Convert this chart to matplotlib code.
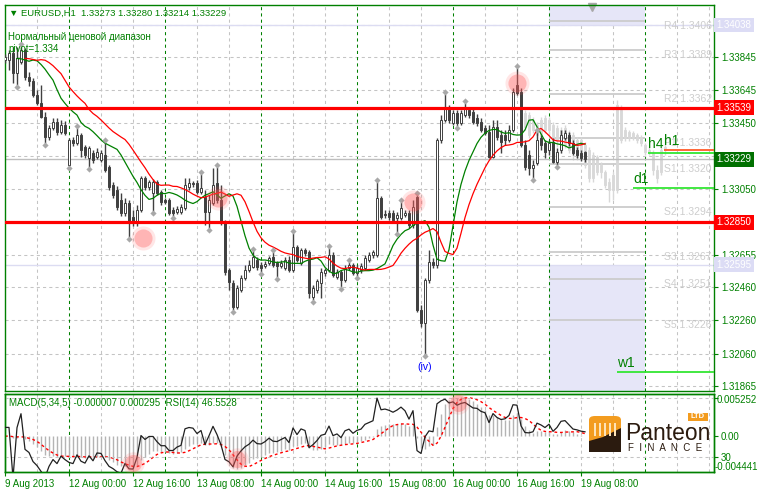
import numpy as np
import pandas as pd
import matplotlib
matplotlib.use("Agg")
import matplotlib.pyplot as plt
from matplotlib.patches import FancyBboxPatch, Polygon, Rectangle

plt.rcParams['font.family'] = ['Liberation Sans', 'DejaVu Sans']

# EURUSD H1 bars, 9 Aug 2013 08:00 .. 19 Aug 2013 09:00
opens = [1.33827, 1.33827, 1.33869, 1.33749, 1.33815, 1.33887, 1.33724, 1.33700, 1.33616, 1.33568,
         1.33484, 1.33363, 1.33417, 1.33454, 1.33393, 1.33435, 1.33195, 1.33345, 1.33327, 1.33375,
         1.33303, 1.33237, 1.33267, 1.33243, 1.33225, 1.33255, 1.33183, 1.33074, 1.33044, 1.32984,
         1.32906, 1.32966, 1.32882, 1.32846, 1.32924, 1.33116, 1.33062, 1.33026, 1.33092, 1.33032,
         1.32984, 1.32984, 1.32924, 1.32912, 1.32912, 1.32936, 1.33062, 1.33086, 1.33086, 1.33032,
         1.33002, 1.32912, 1.32966, 1.33086, 1.32984, 1.32846, 1.32563, 1.32484, 1.32340, 1.32442,
         1.32514, 1.32563, 1.32581, 1.32623, 1.32593, 1.32587, 1.32605, 1.32641, 1.32605, 1.32587,
         1.32575, 1.32623, 1.32563, 1.32701, 1.32605, 1.32683, 1.32671, 1.32400, 1.32442, 1.32484,
         1.32545, 1.32563, 1.32653, 1.32520, 1.32551, 1.32502, 1.32575, 1.32593, 1.32545, 1.32563,
         1.32575, 1.32623, 1.32653, 1.32653, 1.32996, 1.32900, 1.32906, 1.32906, 1.32876, 1.32876,
         1.32894, 1.32906, 1.32833, 1.33002, 1.32322, 1.32244, 1.32502, 1.32611, 1.32593, 1.33345,
         1.33466, 1.33538, 1.33448, 1.33508, 1.33448, 1.33496, 1.33526, 1.33514, 1.33478, 1.33454,
         1.33417, 1.33393, 1.33243, 1.33423, 1.33375, 1.33375, 1.33345, 1.33405, 1.33676, 1.33634,
         1.33315, 1.33255, 1.33177, 1.33207, 1.33357, 1.33327, 1.33285, 1.33333, 1.33213, 1.33285,
         1.33357, 1.33375, 1.33327, 1.33285, 1.33267, 1.33273]
highs = [1.33863, 1.33887, 1.33905, 1.33905, 1.33911, 1.33899, 1.33755, 1.33718, 1.33646, 1.33676,
         1.33514, 1.33435, 1.33478, 1.33478, 1.33466, 1.33460, 1.33357, 1.33363, 1.33417, 1.33387,
         1.33315, 1.33309, 1.33285, 1.33297, 1.33285, 1.33333, 1.33195, 1.33092, 1.33068, 1.33026,
         1.32996, 1.32984, 1.32924, 1.32954, 1.33128, 1.33128, 1.33104, 1.33110, 1.33104, 1.33044,
         1.32996, 1.32996, 1.32942, 1.32948, 1.32960, 1.33116, 1.33116, 1.33098, 1.33104, 1.33141,
         1.33044, 1.33014, 1.33177, 1.33183, 1.33074, 1.32864, 1.32575, 1.32502, 1.32472, 1.32532,
         1.32593, 1.32623, 1.32677, 1.32641, 1.32611, 1.32617, 1.32647, 1.32671, 1.32617, 1.32623,
         1.32641, 1.32647, 1.32785, 1.32713, 1.32695, 1.32695, 1.32683, 1.32472, 1.32508, 1.32575,
         1.32575, 1.32695, 1.32671, 1.32569, 1.32563, 1.32593, 1.32611, 1.32605, 1.32593, 1.32605,
         1.32653, 1.32671, 1.32683, 1.33092, 1.33008, 1.32924, 1.32924, 1.32924, 1.32912, 1.32972,
         1.32924, 1.32924, 1.32984, 1.33014, 1.32352, 1.32514, 1.32683, 1.32635, 1.33357, 1.33496,
         1.33622, 1.33556, 1.33526, 1.33526, 1.33526, 1.33568, 1.33544, 1.33532, 1.33502, 1.33478,
         1.33435, 1.33435, 1.33466, 1.33466, 1.33405, 1.33405, 1.33435, 1.33658, 1.33779, 1.33658,
         1.33345, 1.33285, 1.33225, 1.33393, 1.33375, 1.33345, 1.33345, 1.33357, 1.33297, 1.33405,
         1.33405, 1.33393, 1.33345, 1.33303, 1.33285, 1.33280]
lows = [1.33809, 1.33767, 1.33688, 1.33676, 1.33803, 1.33706, 1.33670, 1.33604, 1.33556, 1.33478,
        1.33327, 1.33345, 1.33405, 1.33375, 1.33381, 1.33375, 1.33189, 1.33309, 1.33315, 1.33243,
        1.33237, 1.33183, 1.33207, 1.33231, 1.33213, 1.33153, 1.33044, 1.32996, 1.32924, 1.32888,
        1.32888, 1.32761, 1.32827, 1.32827, 1.32912, 1.33044, 1.33044, 1.32918, 1.33014, 1.32954,
        1.32960, 1.32894, 1.32888, 1.32900, 1.32900, 1.32924, 1.33044, 1.33062, 1.33020, 1.33020,
        1.32833, 1.32815, 1.32954, 1.32966, 1.32833, 1.32532, 1.32442, 1.32322, 1.32328, 1.32430,
        1.32502, 1.32551, 1.32575, 1.32563, 1.32551, 1.32575, 1.32593, 1.32581, 1.32520, 1.32575,
        1.32563, 1.32551, 1.32551, 1.32611, 1.32593, 1.32647, 1.32394, 1.32382, 1.32424, 1.32394,
        1.32526, 1.32551, 1.32520, 1.32508, 1.32460, 1.32490, 1.32563, 1.32532, 1.32526, 1.32545,
        1.32563, 1.32611, 1.32635, 1.32641, 1.32870, 1.32876, 1.32864, 1.32852, 1.32791, 1.32864,
        1.32882, 1.32815, 1.32815, 1.32310, 1.32219, 1.32057, 1.32484, 1.32575, 1.32575, 1.33327,
        1.33454, 1.33448, 1.33435, 1.33429, 1.33435, 1.33484, 1.33478, 1.33442, 1.33429, 1.33393,
        1.33375, 1.33237, 1.33237, 1.33345, 1.33267, 1.33315, 1.33333, 1.33393, 1.33616, 1.33303,
        1.33165, 1.33134, 1.33116, 1.33195, 1.33285, 1.33237, 1.33255, 1.33207, 1.33195, 1.33267,
        1.33345, 1.33309, 1.33255, 1.33237, 1.33219, 1.33214]
closes = [1.33845, 1.33869, 1.33749, 1.33839, 1.33887, 1.33724, 1.33700, 1.33616, 1.33568, 1.33484,
          1.33363, 1.33417, 1.33454, 1.33393, 1.33435, 1.33387, 1.33345, 1.33327, 1.33375, 1.33285,
          1.33255, 1.33297, 1.33225, 1.33273, 1.33267, 1.33165, 1.33062, 1.33014, 1.32942, 1.32906,
          1.32966, 1.32852, 1.32846, 1.32924, 1.33116, 1.33062, 1.33092, 1.33092, 1.33026, 1.32972,
          1.32972, 1.32906, 1.32906, 1.32930, 1.32942, 1.33074, 1.33086, 1.33080, 1.33032, 1.33056,
          1.32912, 1.32984, 1.33074, 1.32984, 1.32846, 1.32551, 1.32490, 1.32340, 1.32454, 1.32514,
          1.32563, 1.32593, 1.32641, 1.32581, 1.32575, 1.32599, 1.32635, 1.32593, 1.32587, 1.32605,
          1.32623, 1.32563, 1.32701, 1.32623, 1.32683, 1.32665, 1.32424, 1.32454, 1.32496, 1.32551,
          1.32563, 1.32653, 1.32532, 1.32551, 1.32502, 1.32575, 1.32593, 1.32545, 1.32575, 1.32587,
          1.32635, 1.32653, 1.32671, 1.32996, 1.32882, 1.32894, 1.32882, 1.32864, 1.32894, 1.32936,
          1.32906, 1.32833, 1.32942, 1.32322, 1.32244, 1.32502, 1.32611, 1.32593, 1.33345, 1.33466,
          1.33538, 1.33466, 1.33508, 1.33448, 1.33508, 1.33538, 1.33496, 1.33454, 1.33448, 1.33405,
          1.33387, 1.33243, 1.33423, 1.33363, 1.33333, 1.33345, 1.33405, 1.33634, 1.33628, 1.33315,
          1.33183, 1.33177, 1.33195, 1.33345, 1.33315, 1.33273, 1.33327, 1.33213, 1.33273, 1.33375,
          1.33387, 1.33327, 1.33267, 1.33255, 1.33237, 1.33229]

# faded projection candles behind the last part of the chart
ghost_first_bar = 130
ghost_open = [1.33423, 1.33496, 1.33405, 1.33435, 1.33375, 1.33478, 1.33405, 1.33435, 1.33345, 1.33405,
              1.33315, 1.33387, 1.33285, 1.33345, 1.33255, 1.33315, 1.33285, 1.33116, 1.33243, 1.33153,
              1.33153, 1.33092, 1.33044, 1.33044, 1.33526, 1.33357, 1.33393, 1.33357, 1.33375, 1.33363,
              1.33315, 1.33273, 1.33267, 1.33165, 1.33153, 1.33285]
ghost_close = [1.33508, 1.33375, 1.33466, 1.33375, 1.33466, 1.33405, 1.33466, 1.33345, 1.33417, 1.33285,
               1.33417, 1.33285, 1.33375, 1.33243, 1.33345, 1.33195, 1.33116, 1.33255, 1.33153, 1.33195,
               1.33074, 1.33044, 1.33134, 1.33556, 1.33345, 1.33405, 1.33357, 1.33387, 1.33345, 1.33327,
               1.33273, 1.33285, 1.33165, 1.33116, 1.33285, 1.33303]
ghost_high = [1.33526, 1.33514, 1.33484, 1.33454, 1.33484, 1.33496, 1.33484, 1.33454, 1.33435, 1.33423,
              1.33435, 1.33405, 1.33393, 1.33363, 1.33363, 1.33333, 1.33303, 1.33273, 1.33255, 1.33213,
              1.33165, 1.33116, 1.33153, 1.33586, 1.33556, 1.33423, 1.33405, 1.33399, 1.33387, 1.33375,
              1.33327, 1.33303, 1.33285, 1.33195, 1.33303, 1.33315]
ghost_low = [1.33405, 1.33357, 1.33387, 1.33357, 1.33357, 1.33387, 1.33375, 1.33327, 1.33303, 1.33267,
             1.33297, 1.33267, 1.33225, 1.33225, 1.33237, 1.33177, 1.33092, 1.33092, 1.33134, 1.33116,
             1.33056, 1.32972, 1.32984, 1.33026, 1.33327, 1.33339, 1.33339, 1.33345, 1.33327, 1.33309,
             1.33255, 1.33255, 1.33134, 1.33086, 1.33134, 1.33255]

date_ticks = [0, 16, 32, 48, 64, 80, 96, 112, 128, 144]
date_labels = ['9 Aug 2013', '12 Aug 00:00', '12 Aug 16:00', '13 Aug 08:00', '14 Aug 00:00',
               '14 Aug 16:00', '15 Aug 08:00', '16 Aug 00:00', '16 Aug 16:00', '19 Aug 08:00']
day_starts = [16, 40, 64, 88, 112, 136, 160]

price_ticks = [1.34040, 1.33845, 1.33645, 1.33450, 1.33250, 1.33050, 1.32850,
               1.32655, 1.32460, 1.32260, 1.32060, 1.31865]
price_tick_labels = ['', '1.33845', '1.33645', '1.33450', '', '1.33050', '',
                     '1.32655', '1.32460', '1.32260', '1.32060', '1.31865']

sr_levels = [1.33539, 1.32850]
zone_top = 1.34038
zone_bottom = 1.32595
zone_bars = [136, 160]

pivot_names = ['R4', 'R3', 'R2', 'P1', 'S1', 'S2', 'S3', 'S4', 'S5']
pivot_values = [1.3406, 1.3389, 1.3362, 1.3336, 1.3320, 1.3294, 1.3267, 1.3251, 1.3226]

level_names = ['h4', 'h1', 'd1', 'w1']
level_values = [1.33267, 1.33285, 1.33056, 1.31949]
level_start = [160.75, 164.75, 157, 153]
level_colors = ['#33e633', '#ff5a28', '#33e633', '#33e633']

hl_bars = [34.5, 53.25, 102, 128]
hl_prices = [1.32756, 1.32996, 1.32972, 1.33689]
osc_hl_bars = [32, 58, 113.25]
osc_hl_rsi = [25.7, 28.4, 66.6]

GREEN = '#008000'
DARK = '#404040'
W, H = 759, 493


def box(l, t, r, b):
    return [l / W, 1 - b / H, (r - l) / W, (b - t) / H]


o = np.array(opens); h = np.array(highs); l = np.array(lows); c = np.array(closes)
n = len(c)
x = np.arange(n)
XMAX = 177.25

fig = plt.figure(figsize=(W / 100, H / 100), dpi=100)
ax = fig.add_axes(box(4.6, 5, 714, 391))
ax2 = fig.add_axes(box(4.6, 394, 714, 472))
ax3 = ax2.twinx()

ax.set_xlim(-0.1, XMAX)
ax.set_ylim(1.31835, 1.34158)
ax2.set_xlim(-0.1, XMAX)
ax2.set_ylim(-0.004441, 0.005252)
ax3.set_ylim(19.7, 72.7)

for a in (ax, ax2, ax3):
    for s in a.spines.values():
        s.set_color(GREEN)
        s.set_linewidth(1)

# grid
for p in price_ticks:
    ax.axhline(p, color='#c4c4c4', lw=0.75, ls=(0, (3, 3)), zorder=0)
for g in range(8, 178, 8):
    day = g in day_starts
    for a in (ax, ax2):
        a.axvline(g, color=GREEN if day else '#c4c4c4', lw=0.75, ls=(0, (3, 3)), zorder=0.6 if day else 0)
for r in (70, 30):
    ax3.axhline(r, color='#c4c4c4', lw=0.75, ls=(0, (3, 3)), zorder=0)

# shaded zones on the last day
ax.fill_between(zone_bars, zone_top, 1.34158, color='#e6e6f8', lw=0, zorder=0.5)
ax.fill_between(zone_bars, 1.31835, zone_bottom, color='#e6e6f8', lw=0, zorder=0.5)
ax.axhline(zone_top, color='#dcdcf2', lw=1, zorder=0.5)
ax.axhline(zone_bottom, color='#dcdcf2', lw=1, zorder=0.5)
ax.plot([146.75], [1.34148], marker='v', ms=6, color='#a8a8a8', clip_on=False, zorder=1)

# pivot levels
for name, v in zip(pivot_names, pivot_values):
    ax.hlines(v, zone_bars[0], zone_bars[1], color='#cccccc', lw=1.3, zorder=0.8)
    ax.text(0.997, v, '%s %.4f' % (name, v), transform=ax.get_yaxis_transform(), ha='right', va='top',
            fontsize=7.5, color='#cdcdcd', zorder=0.8)

# ghost candles
gx = ghost_first_bar + np.arange(len(ghost_open))
go = np.array(ghost_open); gc = np.array(ghost_close)
ax.vlines(gx, ghost_low, ghost_high, color='#d8d8d8', lw=1, zorder=1)
ax.bar(gx, np.maximum(np.abs(gc - go), 0.00002), bottom=np.minimum(go, gc), width=0.7,
       color='#d8d8d8', edgecolor='#d8d8d8', lw=0.6, zorder=1)

ax.axhline(c[-1], color='#bebebe', lw=1, zorder=1.5)

# candles
up = c >= o
ax.vlines(x, l, h, color=DARK, lw=1, zorder=3)
ax.bar(x, np.maximum(np.abs(c - o), 0.00002), bottom=np.minimum(o, c), width=0.7,
       color=np.where(up, 'white', DARK), edgecolor=DARK, lw=0.7, zorder=3.5)

# alligator lips / teeth
median = pd.Series((h + l) / 2)
lips = median.ewm(alpha=1 / 5, adjust=False).mean().values
teeth = median.ewm(alpha=1 / 8, adjust=False).mean().values
ax.plot(x[3:], lips[:-3], color=GREEN, lw=0.9, zorder=4)
ax.plot(x[5:], teeth[:-5], color='#ff0000', lw=0.9, zorder=4)

# fractals
fu = [i for i in range(2, n - 2) if h[i] > max(h[i - 2], h[i - 1], h[i + 1], h[i + 2])]
fd = [i for i in range(2, n - 2) if l[i] < min(l[i - 2], l[i - 1], l[i + 1], l[i + 2])]
ax.scatter(fu, h[fu] + 0.00012, marker='D', s=10, color='#a8a8a8', zorder=4.2, lw=0)
ax.scatter(fd, l[fd] - 0.00012, marker='D', s=10, color='#a8a8a8', zorder=4.2, lw=0)

for v in sr_levels:
    ax.axhline(v, color='#ff0000', lw=2.3, zorder=4.5)

ax.scatter(hl_bars, hl_prices, s=300, color='#ff5a5a', alpha=0.15, lw=0, zorder=5)
ax.scatter(hl_bars, hl_prices, s=170, color='#ff5a5a', alpha=0.35, lw=0, zorder=5)

for name, v, s0, col in zip(level_names, level_values, level_start, level_colors):
    ax.hlines(v, s0, XMAX, color=col, lw=1.3, zorder=5)
    ax.annotate(name, (s0, v), xytext=(0, 1.5), textcoords='offset points', ha='left', va='bottom',
                fontsize=10, color=GREEN, zorder=6)

ax.annotate('(iv)', (105, l[105]), xytext=(0, -6), textcoords='offset points', ha='center', va='top',
            fontsize=7.5, color='#0000ff')

ax.text(0.006, 0.979, '\u25bc EURUSD,H1  1.33273 1.33280 1.33214 1.33229', transform=ax.transAxes,
        fontsize=6.8, color=GREEN, va='center', zorder=7)
ax.text(0.005, 0.917, 'Нормальный ценовой диапазон', transform=ax.transAxes, fontsize=7,
        color=GREEN, va='center', zorder=7)
ax.text(0.005, 0.886, 'pivot=1.334', transform=ax.transAxes, fontsize=7, color=GREEN, va='center', zorder=7)

# right price scale
ax.yaxis.tick_right()
ax.set_yticks(price_ticks)
ax.set_yticklabels(price_tick_labels)
ax.tick_params(axis='y', colors=GREEN, labelsize=7, length=3, pad=2, width=0.8)
ax.set_xticks([])
marks = [(zone_top, '#dcdcf5'), (sr_levels[0], '#ff0000'), (c[-1], '#007000'),
         (sr_levels[1], '#ff0000'), (zone_bottom, '#dcdcf5')]
for v, bg in marks:
    ax.text(1.0035, v, '%.5f' % v, transform=ax.get_yaxis_transform(), ha='left', va='center',
            fontsize=7, color='white', clip_on=False,
            bbox=dict(boxstyle='square,pad=0.25', fc=bg, ec='none'))

# MACD(5,34,5) + RSI(14)
cs = pd.Series(c)
macd = cs.ewm(span=5, adjust=False).mean() - cs.ewm(span=34, adjust=False).mean()
signal = macd.rolling(5, min_periods=1).mean()
d = cs.diff().fillna(0)
gain = d.clip(lower=0).ewm(alpha=1 / 14, adjust=False).mean()
loss = (-d.clip(upper=0)).ewm(alpha=1 / 14, adjust=False).mean()
rsi = (100 - 100 / (1 + gain / loss.replace(0, np.nan))).fillna(50)

ax2.vlines(x, 0, macd, color='#b4b4b4', lw=1, zorder=1)
ax2.plot(x, signal, color='#ff0000', lw=1, ls=(0, (2, 2)), zorder=2)
ax3.plot(x, rsi, color='#202020', lw=0.9, zorder=3)
ax3.scatter(osc_hl_bars, osc_hl_rsi, s=260, color='#ff5a5a', alpha=0.15, lw=0, zorder=4)
ax3.scatter(osc_hl_bars, osc_hl_rsi, s=150, color='#ff5a5a', alpha=0.35, lw=0, zorder=4)
ax3.text(0.006, 0.88, 'MACD(5,34,5) -0.000007 0.000295  RSI(14) 46.5528', transform=ax3.transAxes,
         fontsize=7, color=GREEN, va='center')

ax2.yaxis.tick_right()
ax2.set_yticks([0])
ax2.set_yticklabels(['0.00'])
ax2.tick_params(axis='y', colors=GREEN, labelsize=7, length=3, pad=2, width=0.8)
ax3.set_yticks([70, 30])
ax3.set_yticklabels(['', '30'])
ax3.tick_params(axis='y', colors=GREEN, labelsize=7, length=3, pad=2, width=0.8)
ax2.text(1.003, 0.92, '0.005252', transform=ax2.transAxes, fontsize=7, color=GREEN, va='center')
ax2.text(1.001, 0.07, '-0.004441', transform=ax2.transAxes, fontsize=7, color=GREEN, va='center')

ax2.set_xticks(date_ticks)
ax2.set_xticklabels(date_labels, ha='left')
ax2.tick_params(axis='x', colors=GREEN, labelsize=7, length=3, pad=2, width=0.8)

# logo
fig.patches.append(FancyBboxPatch((589 / W, 1 - 452 / H), 32 / W, 36 / H,
                                  boxstyle='round,pad=0,rounding_size=0.008',
                                  fc='#f39c1f', ec='none', transform=fig.transFigure))
fig.patches.append(Polygon([(589 / W, 1 - 452 / H), (589 / W, 1 - 441 / H), (603 / W, 1 - 437 / H),
                            (621 / W, 1 - 428 / H), (621 / W, 1 - 452 / H)],
                           fc='#2b1b0f', ec='none', transform=fig.transFigure))
for k in range(5):
    fig.patches.append(Rectangle(((594 + 5 * k) / W, 1 - 436 / H), 2 / W, 13 / H, fc='#fde3b8',
                                 ec='none', transform=fig.transFigure))
fig.patches.append(Rectangle((688 / W, 1 - 421 / H), 20 / W, 8 / H, fc='#f39c1f', ec='none',
                             transform=fig.transFigure))
fig.text(698 / W, 1 - 417 / H, 'LTD', fontsize=5.5, color='white', ha='center', va='center',
         fontweight='bold')
fig.text(625 / W, 1 - 433 / H, 'Panteon', fontsize=16.5, color='#2b1b0f', ha='left', va='center')
fig.text(628 / W, 1 - 448 / H, 'F  I  N  A  N  C  E', fontsize=7, color='#2b1b0f', ha='left',
         va='center')

fig.savefig('out.png', dpi=100, facecolor='white')
